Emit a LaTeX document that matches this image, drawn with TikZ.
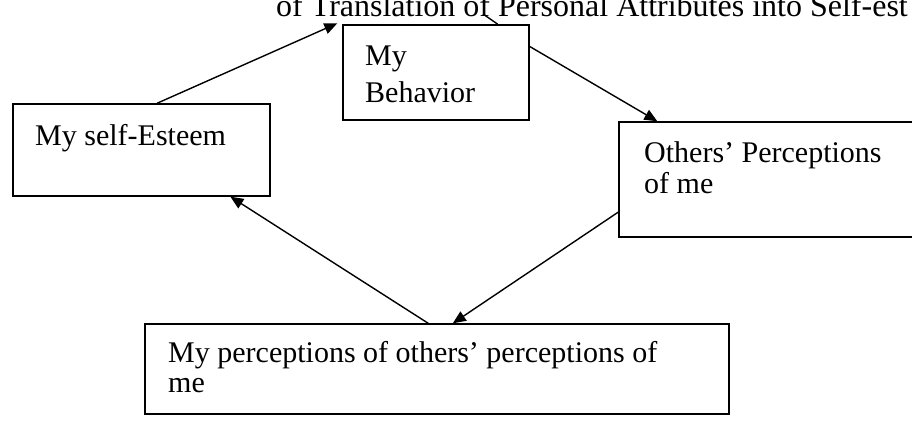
\documentclass[tikz,border=0pt]{standalone}
\usepackage{fontspec}
\setmainfont{Liberation Serif}
\usetikzlibrary{arrows.meta,calc}
\begin{document}
\begin{tikzpicture}[x=1pt,y=-1pt,
  box/.style={draw, line width=1.4pt, rectangle, inner sep=0pt},
  txt/.style={anchor=north west, inner sep=0pt, align=left},
  arr/.style={line width=1.4pt, -{Triangle[length=13pt,width=11pt]}}]
\useasboundingbox (0,0) rectangle (912,422);
\clip (0,0) rectangle (912,422);

% title (cut off by the page edge, as in the scan)
\node[anchor=base east, inner sep=0pt, font=\fontsize{32}{38}\selectfont] (title) at (908,17)
  {of Translation of Personal Attributes into Self-est};

% boxes
\node[box, minimum width=186pt, minimum height=95pt] (beh) at (436,72.5) {};
\node[box, minimum width=257pt, minimum height=92pt] (est) at (141.5,150) {};
\node[box, minimum width=316pt, minimum height=115pt] (oth) at (777,179.5) {};
\node[box, minimum width=584pt, minimum height=90pt] (bot) at (437,369) {};

% texts
\node[txt, font=\fontsize{30}{37}\selectfont] (behT) at (365,45.5) {My\\Behavior};
\node[txt, font=\fontsize{30}{36}\selectfont] (estT) at (35,124.5) {My self-Esteem};
\node[txt, font=\fontsize{30}{31}\selectfont] (othT) at (644,141.5) {Others’ Perceptions\\of me};
\node[txt, font=\fontsize{30}{30}\selectfont] (botT) at (168,341.5) {My perceptions of others’ perceptions of\\me};

% connectors
\draw[arr] ($(est.north west)!0.56!(est.north east)$) -- ([xshift=-5pt,yshift=1pt]beh.north west);
\draw[arr] ($(beh.north east)!0.23!(beh.south east)$) -- ($(oth.north west)!0.123!(oth.north east)$);
\draw[arr] ($(oth.north west)!0.78!(oth.south west)$) -- ($(bot.north west)!0.527!(bot.north east)$);
\draw[arr] ($(bot.north west)!0.485!(bot.north east)$) -- ($(est.south west)!0.844!(est.south east)$);

% short stroke at the top of the behaviour box
\coordinate (tk) at (483,14);
\draw[line width=1.4pt] (tk) -- ($(beh.north west)!0.83!(beh.north east)$);
\end{tikzpicture}
\end{document}
